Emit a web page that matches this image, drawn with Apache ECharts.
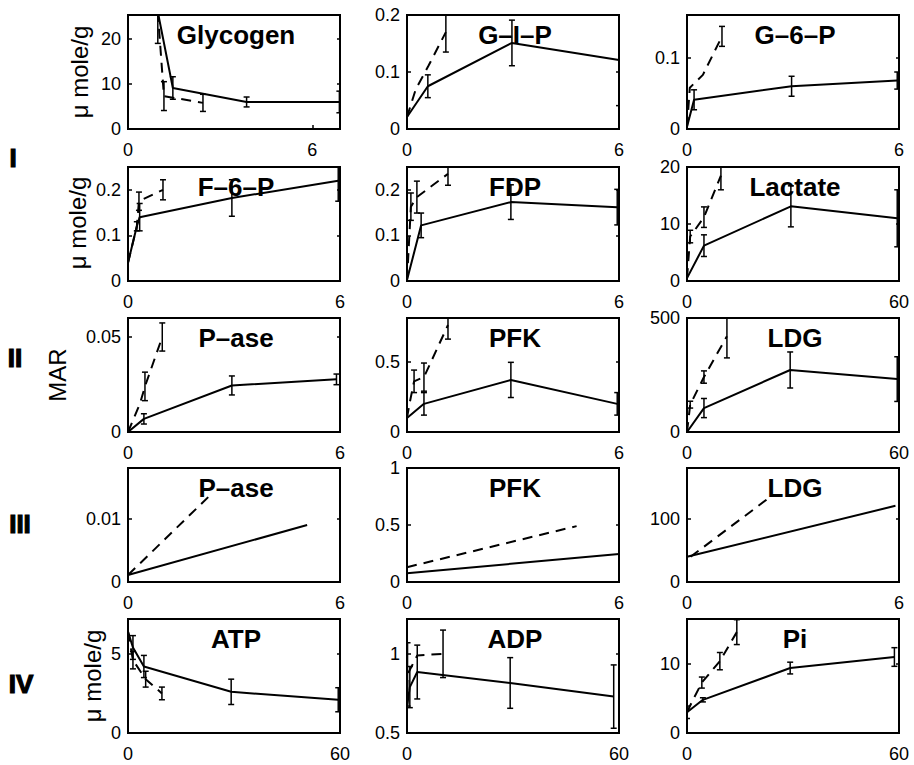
<!DOCTYPE html>
<html><head><meta charset="utf-8">
<script src="https://cdn.jsdelivr.net/npm/echarts@6/dist/echarts.min.js"></script>
<style>html,body{margin:0;padding:0;background:#fff}#c{width:914px;height:765px}</style>
</head><body><div id="c"></div>
<script>
// each point: [time, value, half error bar (0 = none)]
const glycogenSolid  = [[0.97,26,7],[1.46,9.1,2.5],[3.86,6.0,1.1],[6.88,6.0,2.4]];
const glycogenDashed = [[0.97,26,0],[1.17,7.3,3.2],[2.44,5.8,1.9]];
const g1pSolid  = [[0,0.021,0],[0.59,0.075,0.02],[2.97,0.151,0.04],[6,0.121,0.08]];
const g1pDashed = [[0,0.021,0],[0.25,0.07,0],[0.6,0.11,0],[1.1,0.17,0.035]];
const g6pSolid  = [[0,0.003,0],[0.2,0.041,0.014],[2.96,0.06,0.014],[5.95,0.068,0.012]];
const g6pDashed = [[0,0.003,0],[0.08,0.058,0],[0.45,0.076,0],[0.99,0.13,0.014]];
const f6pSolid  = [[0,0.04,0],[0.25,0.12,0.01],[0.33,0.14,0.03],[2.94,0.182,0.04],[5.95,0.22,0.045]];
const f6pDashed = [[0,0.04,0],[0.25,0.12,0],[0.31,0.175,0.02],[0.99,0.2,0.022]];
const fdpSolid  = [[0,0.002,0],[0.4,0.122,0.027],[2.94,0.173,0.038],[5.95,0.162,0.039]];
const fdpDashed = [[0,0.002,0],[0.11,0.163,0.03],[0.28,0.184,0.035],[1.16,0.235,0.025]];
const lactateSolid  = [[0,0.5,0],[4.8,6.2,1.9],[29.4,13.1,3.6],[59.5,11,5]];
const lactateDashed = [[0,0.5,0],[0.9,7.8,1.1],[4.8,11.2,1.8],[9.6,18.5,2.5]];
const pase2Solid  = [[0,0,0],[0.45,0.0069,0.0027],[2.94,0.0245,0.005],[5.9,0.0277,0.0028]];
const pase2Dashed = [[0,0,0],[0.34,0.015,0],[0.48,0.024,0.0075],[0.97,0.05,0.0074]];
const pfk2Solid  = [[0,0.1,0],[0.48,0.2,0.08],[2.94,0.37,0.125],[5.95,0.2,0.08]];
const pfk2Dashed = [[0,0.1,0],[0.07,0.2,0],[0.2,0.36,0.08],[0.48,0.39,0.1],[1.16,0.76,0.1]];
const ldg2Solid  = [[0,0,0],[4.8,105,42],[29.2,272,79],[59.5,232,98]];
const ldg2Dashed = [[0,0,0],[0.9,120,15],[4.8,241,27],[11.3,420,95]];
const pase3Solid  = [[0,0.0011,0],[5.07,0.009,0]];
const pase3Dashed = [[0,0.0011,0],[2.27,0.0134,0]];
const pfk3Solid  = [[0,0.077,0],[6,0.245,0]];
const pfk3Dashed = [[0,0.13,0],[4.8,0.49,0]];
const ldg3Solid  = [[0,40,0],[5.9,121,0]];
const ldg3Dashed = [[0.1,40,0],[2.4,137,0]];
const atpSolid  = [[0,6.4,0],[1.4,5.4,0.75],[4.5,4.2,0.7],[29.2,2.6,0.8],[59.5,2.1,0.76]];
const atpDashed = [[0,6.4,0],[1.4,4.6,0.55],[5,3.4,0.5],[9.6,2.5,0.4]];
const adpSolid  = [[0,0.665,0],[0.8,0.79,0.13],[2.9,0.885,0.17],[29.2,0.816,0.16],[58.5,0.73,0.2]];
const adpDashed = [[0,0.665,0],[0.15,0.87,0.2],[2.9,0.99,0],[10.2,1.0,0.15]];
const piSolid  = [[0,3.0,0.9],[4.5,4.8,0.3],[29.2,9.4,0.85],[58.7,11,1.35]];
const piDashed = [[0,3.0,0],[1.4,4.5,0],[4.2,7.3,0.8],[9.3,10.4,1.25],[14.1,14.6,1.8]];

const panelTitles = ['Glycogen','G–I–P','G–6–P','F–6–P','FDP','Lactate','P–ase','PFK','LDG','P–ase','PFK','LDG','ATP','ADP','Pi'];
const xMaxes  = [6.9,6,6, 6,6,60, 6,6,60, 6,6,6, 60,60,60];
const xTickLabels = [[0,6],[0,6],[0,6],[0,6],[0,6],[0,60],[0,6],[0,6],[0,60],[0,6],[0,6],[0,6],[0,60],[0,60],[0,60]];
const yMins = [0,0,0, 0,0,0, 0,0,0, 0,0,0, 0,0.5,0];
const yMaxes = [25.3,0.2,0.16, 0.25,0.25,20, 0.06,0.81,500, 0.018,1,181, 7.2,1.22,16.5];
const yTickLabels = [[0,10,20],[0,0.1,0.2],[0,0.1],[0,0.1,0.2],[0,0.1,0.2],[0,10,20],[0,0.05],[0,0.5],[0,500],[0,0.01],[0,0.5,1],[0,100],[0,5],[0.5,1],[0,10]];
const solids  = [glycogenSolid,g1pSolid,g6pSolid,f6pSolid,fdpSolid,lactateSolid,pase2Solid,pfk2Solid,ldg2Solid,pase3Solid,pfk3Solid,ldg3Solid,atpSolid,adpSolid,piSolid];
const dashes  = [glycogenDashed,g1pDashed,g6pDashed,f6pDashed,fdpDashed,lactateDashed,pase2Dashed,pfk2Dashed,ldg2Dashed,pase3Dashed,pfk3Dashed,ldg3Dashed,atpDashed,adpDashed,piDashed];
const rowLabels = ['I','II','III','IV'];
const yNames = ['μ mole/g','μ mole/g','MAR','μ mole/g'];

// layout
const colLeft = [128,407,687], rowTop = [15,167,318,468,619], W = 212, H = 114;
const FONT = '"Liberation Sans", Arial, Helvetica, sans-serif';

const grids = [], xAxes = [], yAxes = [], series = [], graphics = [];
function errRender(params, api){
  const x = api.value(0);
  const a = api.coord([x, api.value(1)]), b = api.coord([x, api.value(2)]);
  const c = 3, st = {stroke:'#000', lineWidth:1.5};
  return {type:'group', children:[
    {type:'line', shape:{x1:a[0],y1:a[1],x2:b[0],y2:b[1]}, style:st},
    {type:'line', shape:{x1:a[0]-c,y1:a[1],x2:a[0]+c,y2:a[1]}, style:st},
    {type:'line', shape:{x1:b[0]-c,y1:b[1],x2:b[0]+c,y2:b[1]}, style:st}
  ]};
}
for (let i = 0; i < 15; i++) {
  const r = Math.floor(i/3), c = i%3;
  grids.push({left:colLeft[c], top:rowTop[r], width:W, height:H, show:true, borderColor:'#000', borderWidth:2, backgroundColor:'rgba(0,0,0,0)'});
  xAxes.push({type:'value', gridIndex:i, min:0, max:xMaxes[i],
    axisLine:{show:false}, splitLine:{show:false},
    axisTick:{show:true, inside:true, length:4, customValues:xTickLabels[i], lineStyle:{color:'#000', width:1.5}},
    axisLabel:{customValues:xTickLabels[i], margin:12, color:'#000', fontSize:18, fontFamily:FONT}});
  yAxes.push({type:'value', gridIndex:i, min:yMins[i], max:yMaxes[i], position:'left',
    axisLine:{show:false}, splitLine:{show:false},
    axisTick:{show:true, inside:true, length:4, customValues:yTickLabels[i], lineStyle:{color:'#000', width:1.5}},
    axisLabel:{customValues:yTickLabels[i], margin:7, color:'#000', fontSize:18, fontFamily:FONT}});
  yAxes.push({type:'value', gridIndex:i, min:yMins[i], max:yMaxes[i], position:'right',
    axisLine:{show:false}, splitLine:{show:false},
    axisTick:{show:true, inside:true, length:3, customValues:yTickLabels[i], lineStyle:{color:'#000', width:1.5}},
    axisLabel:{show:false}});
  const base = {xAxisIndex:i, yAxisIndex:2*i, animation:false, silent:true};
  series.push(Object.assign({type:'line', data:solids[i].map(d=>[d[0],d[1]]), symbol:'none', clip:true,
    lineStyle:{color:'#000', width:2}, z:5}, base));
  series.push(Object.assign({type:'line', data:dashes[i].map(d=>[d[0],d[1]]), symbol:'none', clip:true,
    lineStyle:{color:'#000', width:2, type:[10,7]}, z:5}, base));
  const errs = solids[i].concat(dashes[i]).filter(d=>d[2]>0).map(d=>[d[0], d[1]-d[2], d[1]+d[2]]);
  if (errs.length) series.push(Object.assign({type:'custom', data:errs, renderItem:errRender, clip:true,
    encode:{x:0, y:[1,2]}, z:6}, base));
  graphics.push({type:'text', x:colLeft[c]+W/2+2, y:rowTop[r]+20, z:1,
    style:{text:panelTitles[i], font:'bold 26px '+FONT, fill:'#000', align:'center', verticalAlign:'middle'}});
}
// row labels (Roman numerals)
const rowLabelPos = [[13,158],[15,358],[20,524],[21,684]];
rowLabels.forEach((t,k)=>graphics.push({type:'text', x:rowLabelPos[k][0], y:rowLabelPos[k][1], z:1,
  style:{text:t, font:'bold 26px '+FONT, fill:'#000', stroke:'#000', lineWidth:1.2, align:'center', verticalAlign:'middle'}}));
// y axis names
const yNamePos = [[79,72],[77,223],[57,375],[92,676]];
yNames.forEach((t,k)=>graphics.push({type:'text', x:yNamePos[k][0], y:yNamePos[k][1], rotation:Math.PI/2, z:1,
  style:{text:t, font:'24px '+FONT, fill:'#000', align:'center', verticalAlign:'middle'}}));

const chart = echarts.init(document.getElementById('c'), null, {renderer:'svg'});
chart.setOption({animation:false, backgroundColor:'#fff', grid:grids, xAxis:xAxes, yAxis:yAxes, series:series, graphic:graphics});
</script></body></html>
